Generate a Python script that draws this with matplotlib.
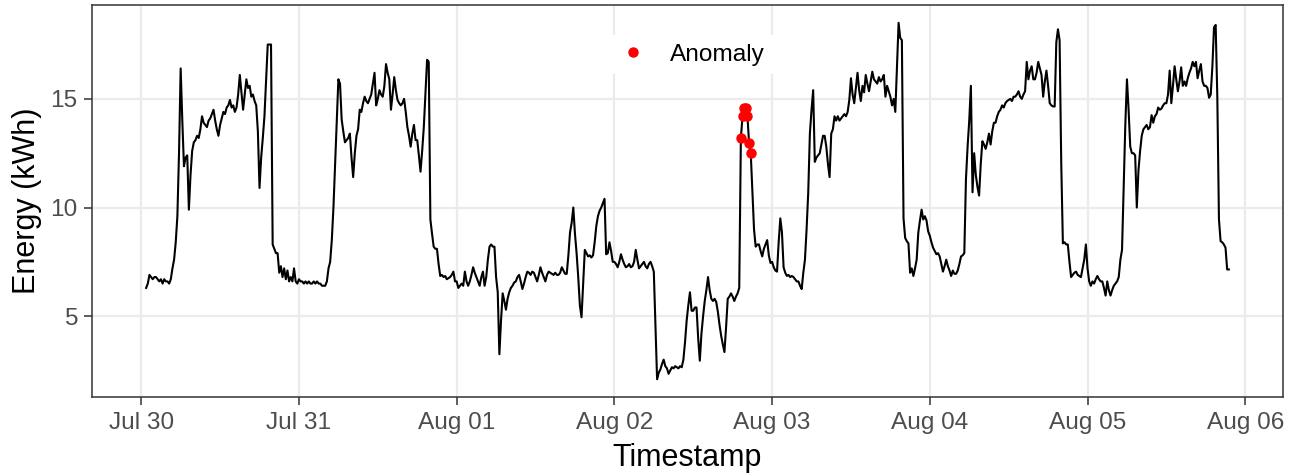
import pandas as pd
import matplotlib
matplotlib.use("Agg")
import matplotlib.pyplot as plt
import matplotlib.dates as mdates

plt.rcParams['font.family'] = ['Liberation Sans', 'DejaVu Sans']

# 15-minute energy readings, one list per day (Jul 30 starts at 00:45, Aug 05 ends at 21:30)
jul30 = [6.3,
         6.5, 6.9, 6.8, 6.7,  6.8, 6.8, 6.7, 6.6,  6.7, 6.5, 6.7, 6.6,  6.6, 6.5, 6.7, 7.2,
         7.6, 8.4, 9.6, 12.5,  16.4, 14.0, 11.9, 12.3,  12.4, 9.9, 11.5, 12.6,  13.0, 13.1, 13.3, 13.2,
         13.6, 14.2, 13.9, 13.8,  13.7, 14.0, 14.1, 14.3,  14.5, 14.0, 13.6, 13.3,  13.8, 14.1, 14.4, 14.3,
         14.6, 14.7, 14.95, 14.6,  14.7, 14.4, 14.6, 15.2,  16.1, 15.3, 14.5, 15.2,  15.9, 15.5, 15.6, 15.1,
         15.2, 14.9, 14.7, 13.5,  10.9, 12.3, 13.2, 14.2,  15.8, 17.5, 17.5, 17.5,  8.3, 8.1, 7.9, 7.9,
         7.0, 7.3, 6.8, 7.2,  6.7, 7.1, 6.6, 6.8,  6.6, 7.2, 6.6, 6.5]
jul31 = [6.7, 6.6, 6.6, 6.5,  6.6, 6.5, 6.6, 6.5,  6.5, 6.6, 6.5, 6.6,  6.5, 6.5, 6.4, 6.4,
         6.4, 6.6, 7.2, 7.5,  8.5, 10.0, 12.0, 14.0,  15.9, 15.7, 14.05, 13.5,  13.0, 13.1, 13.2, 13.4,
         12.3, 11.4, 12.5, 13.3,  13.6, 14.5, 14.4, 14.8,  15.1, 14.9, 14.8, 15.0,  15.2, 15.7, 16.2, 14.7,
         15.0, 15.4, 15.2, 15.1,  15.6, 16.6, 16.2, 15.9,  14.5, 15.2, 16.0, 15.4,  14.95, 14.8, 14.7, 14.8,
         15.0, 14.4, 13.7, 13.3,  12.8, 13.4, 13.8, 13.1,  13.1, 12.4, 11.65, 12.6,  13.7, 15.3, 16.8, 16.7,
         9.45, 8.8, 8.2, 8.1,  8.1, 7.4, 6.85, 6.9,  6.8, 6.85, 6.7, 6.75,  6.8, 6.9, 7.05, 6.6]
aug01 = [6.6, 6.3, 6.4, 6.5,  6.4, 7.05, 6.6, 6.4,  6.6, 6.9, 7.25, 7.0,  6.8, 6.6, 6.4, 6.8,
         7.05, 6.4, 6.8, 7.6,  8.2, 8.3, 8.2, 8.2,  6.8, 6.1, 3.25, 4.8,  6.05, 5.7, 5.3, 5.8,
         6.1, 6.3, 6.4, 6.55,  6.6, 6.8, 6.9, 6.6,  6.25, 6.5, 6.8, 7.05,  7.0, 6.9, 7.05, 7.0,
         6.8, 6.6, 6.9, 7.25,  7.0, 6.8, 6.6, 6.9,  7.05, 7.0, 6.95, 6.9,  7.0, 6.9, 6.9, 7.0,
         7.25, 7.1, 6.95, 6.95,  7.8, 8.85, 9.3, 10.0,  8.8, 7.9, 6.8, 5.5,  4.95, 6.5, 8.05, 7.9,
         7.75, 7.8, 7.7, 7.8,  8.4, 9.15, 9.6, 9.85,  10.0, 10.2, 10.4, 7.85,  7.9, 8.4, 8.0, 7.5]
aug02 = [7.5, 7.4, 7.25, 7.5,  7.85, 7.6, 7.4, 7.25,  7.3, 7.4, 7.25, 7.3,  7.5, 8.05, 7.6, 7.2,
         7.3, 7.4, 7.5, 7.3,  7.2, 7.4, 7.5, 7.3,  7.05, 4.5, 2.1, 2.4,  2.55, 2.8, 3.0, 2.7,
         2.6, 2.35, 2.5, 2.65,  2.6, 2.7, 2.65, 2.6,  2.7, 2.65, 3.0, 3.8,  4.8, 5.5, 6.1, 5.25,
         5.25, 5.4, 5.4, 4.0,  2.95, 4.2, 5.0, 5.7,  6.2, 6.8, 6.2, 5.8,  5.7, 5.8, 5.65, 5.2,
         4.6, 4.1, 3.7, 3.35,  4.5, 5.8, 5.9, 6.05,  5.9, 5.7, 5.9, 6.05,  6.3, 13.2, 14.2, 14.6,
         14.6, 14.2, 12.95, 12.5,  10.8, 9.0, 8.2, 8.3,  8.3, 8.0, 7.75, 8.1,  8.3, 8.5, 7.8, 7.45]
aug03 = [7.5, 7.25, 7.1, 7.05,  8.4, 9.5, 8.85, 7.25,  7.0, 6.85, 6.9, 6.8,  6.85, 6.8, 6.7, 6.6,
         6.6, 6.4, 6.25, 7.0,  7.6, 9.0, 10.7, 13.4,  14.5, 15.4, 12.1, 12.3,  12.4, 12.5, 12.9, 13.3,
         13.3, 12.8, 12.0, 11.4,  13.4, 13.6, 14.2, 14.0,  14.2, 14.0, 14.1, 14.2,  14.3, 14.2, 14.4, 14.95,
         15.95, 15.2, 14.8, 15.5,  16.2, 15.4, 14.9, 15.6,  15.3, 16.1, 15.7, 15.35,  15.8, 16.25, 15.9, 15.8,
         15.7, 16.0, 15.8, 15.9,  16.1, 15.1, 15.6, 15.35,  15.1, 14.7, 15.0, 14.4,  16.4, 18.5, 17.8, 17.7,
         9.5, 8.6, 8.45, 8.35,  7.0, 7.2, 6.85, 7.2,  7.6, 8.85, 9.4, 9.9,  9.45, 9.6, 9.4, 8.9]
aug04 = [8.7, 8.4, 8.15, 8.0,  7.85, 7.9, 7.75, 7.4,  7.05, 7.3, 7.6, 7.3,  7.1, 6.85, 7.1, 6.95,
         6.95, 7.1, 7.4, 7.75,  7.8, 7.9, 11.3, 12.8,  14.0, 15.6, 10.7, 12.5,  11.5, 10.95, 10.55, 12.0,
         13.05, 12.9, 12.7, 13.0,  13.4, 12.9, 13.5, 13.9,  13.9, 14.2, 14.4, 14.5,  14.7, 14.6, 14.8, 14.9,
         14.95, 15.0, 14.9, 15.1,  15.1, 15.2, 15.35, 15.1,  15.0, 15.2, 15.35, 16.7,  15.9, 16.3, 16.5, 15.9,
         15.9, 16.2, 16.7, 16.4,  16.1, 15.1, 15.8, 16.3,  15.6, 14.8, 14.7, 14.65,  14.65, 17.6, 18.2, 17.7,
         12.05, 8.35, 8.4, 8.3,  8.3, 7.5, 6.8, 6.9,  7.0, 7.05, 6.9, 6.85,  6.8, 7.2, 7.6, 8.3]
aug05 = [7.2, 6.6, 6.4, 6.6,  6.5, 6.7, 6.85, 6.7,  6.6, 6.6, 6.3, 5.95,  6.6, 6.2, 5.95, 6.2,
         6.4, 6.5, 6.6, 6.8,  7.6, 8.05, 11.0, 13.8,  15.9, 14.5, 12.8, 12.5,  12.5, 12.4, 10.0, 11.7,
         12.6, 13.3, 13.6, 13.7,  13.8, 13.6, 13.7, 14.25,  13.9, 14.2, 14.3, 14.6,  14.5, 14.55, 14.7, 14.8,
         14.8, 15.2, 16.3, 14.8,  15.6, 16.5, 15.9, 15.35,  15.8, 16.45, 15.6, 15.8,  15.6, 15.95, 16.2, 16.4,
         16.7, 16.5, 16.7, 15.95,  16.3, 16.6, 15.8, 15.6,  15.6, 15.5, 15.05, 15.2,  16.5, 18.3, 18.4, 15.1,
         9.45, 8.45, 8.4, 8.3,  8.15, 7.15, 7.15]

start_time = "2017-07-30 00:45"
anomaly_start = "2017-08-02 19:15"
anomaly_count = 7

energy = jul30 + jul31 + aug01 + aug02 + aug03 + aug04 + aug05
timestamps = pd.date_range(start_time, periods=len(energy), freq="15min")
df = pd.DataFrame({'Timestamp': timestamps, 'Energy': energy}).set_index('Timestamp')

anomaly_times = pd.date_range(anomaly_start, periods=anomaly_count, freq="15min")
anomalies = df.loc[anomaly_times]

# ggplot theme_bw look
grid_col = '#EBEBEB'
border_col = '#333333'
text_col = '#4D4D4D'

fig = plt.figure(figsize=(12.98, 4.74), dpi=100)
ax = fig.add_axes([0.0709, 0.1624, 0.9175, 0.8271])

ax.plot(df.index, df['Energy'], color='black', linewidth=1.5, zorder=3)
ax.plot(anomalies.index, anomalies['Energy'], linestyle='none', marker='o',
        markersize=6.5, color='red', label='Anomaly', zorder=4)

# 5% expansion like ggplot
t0, t1 = mdates.date2num(df.index[0]), mdates.date2num(df.index[-1])
pad_t = (t1 - t0) * 0.05
ax.set_xlim(t0 - pad_t, t1 + pad_t)
ymin, ymax = df['Energy'].min(), df['Energy'].max()
pad_y = (ymax - ymin) * 0.05
ax.set_ylim(ymin - pad_y, ymax + pad_y)

ax.xaxis.set_major_locator(mdates.DayLocator())
ax.xaxis.set_major_formatter(mdates.DateFormatter('%b %d'))
ax.set_yticks([5, 10, 15])

ax.grid(True, color=grid_col, linewidth=1.6, zorder=0)
ax.set_axisbelow(True)
for sp in ax.spines.values():
    sp.set_color(border_col)
    sp.set_linewidth(1.1)

ax.tick_params(axis='both', length=5.5, width=1.1, color=border_col,
               labelcolor=text_col, labelsize=17.6, pad=5)

ax.set_xlabel('Timestamp', fontsize=22, labelpad=7)
ax.set_ylabel('Energy (kWh)', fontsize=22, labelpad=6)

leg = ax.legend(loc='upper center', bbox_to_anchor=(0.502, 0.955), frameon=True,
                framealpha=1, facecolor='white', edgecolor='none', fancybox=False,
                fontsize=17.6, handlelength=1.5, handletextpad=0.77, borderpad=0.35)

fig.savefig('out.png', dpi=100)
